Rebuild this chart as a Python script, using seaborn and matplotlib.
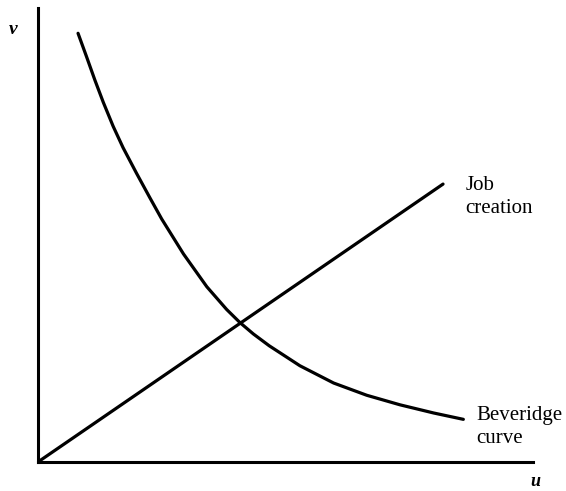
import matplotlib
matplotlib.use("Agg")
import matplotlib.pyplot as plt
import seaborn as sns
import pandas as pd

# Beveridge curve (u, v)
bev_u = [0.81, 0.98, 1.15, 1.32, 1.52, 1.72, 1.99, 2.26, 2.50, 2.94, 3.41,
         3.81, 4.08, 4.35, 4.67, 5.29, 5.97, 6.64, 7.31, 7.99, 8.59]
bev_v = [9.44, 8.93, 8.41, 7.92, 7.39, 6.92, 6.36, 5.82, 5.35, 4.58, 3.86,
         3.36, 3.07, 2.82, 2.56, 2.12, 1.74, 1.47, 1.26, 1.08, 0.94]

# job creation line
job_u = [0.0, 8.18]
job_v = [0.0, 6.12]

sns.set_style("white")
plt.rcParams["font.family"] = ["Liberation Serif", "DejaVu Serif"]
plt.rcParams["text.color"] = "black"

fig = plt.figure(figsize=(5.66, 4.91), dpi=100)
ax = fig.add_axes([0.067, 0.059, 0.875, 0.925])

bev = pd.DataFrame({"u": bev_u, "v": bev_v})
job = pd.DataFrame({"u": job_u, "v": job_v})

sns.lineplot(data=bev, x="u", y="v", sort=False, color="black", lw=2.3, ax=ax)
sns.lineplot(data=job, x="u", y="v", sort=False, color="black", lw=2.3, ax=ax)

ax.set_xlim(0, 10)
ax.set_ylim(0, 10)
ax.set_xticks([])
ax.set_yticks([])
ax.set_xlabel("")
ax.set_ylabel("")
for side in ["top", "right"]:
    ax.spines[side].set_visible(False)
for side in ["left", "bottom"]:
    ax.spines[side].set_color("black")
    ax.spines[side].set_linewidth(2.2)

ax.text(-0.5, 9.52, "v", fontsize=14, style="italic", fontweight="bold",
        ha="center", va="center", clip_on=False)
ax.text(10.05, -0.43, "u", fontsize=13, style="italic", fontweight="bold",
        ha="center", va="center", clip_on=False)

ax.text(8.63, 5.99, "Job", fontsize=15, ha="left", va="baseline", clip_on=False)
ax.text(8.63, 5.48, "creation", fontsize=15, ha="left", va="baseline", clip_on=False)
ax.text(8.85, 0.93, "Beveridge", fontsize=15, ha="left", va="baseline", clip_on=False)
ax.text(8.85, 0.42, "curve", fontsize=15, ha="left", va="baseline", clip_on=False)

fig.savefig("out.png", dpi=100)
